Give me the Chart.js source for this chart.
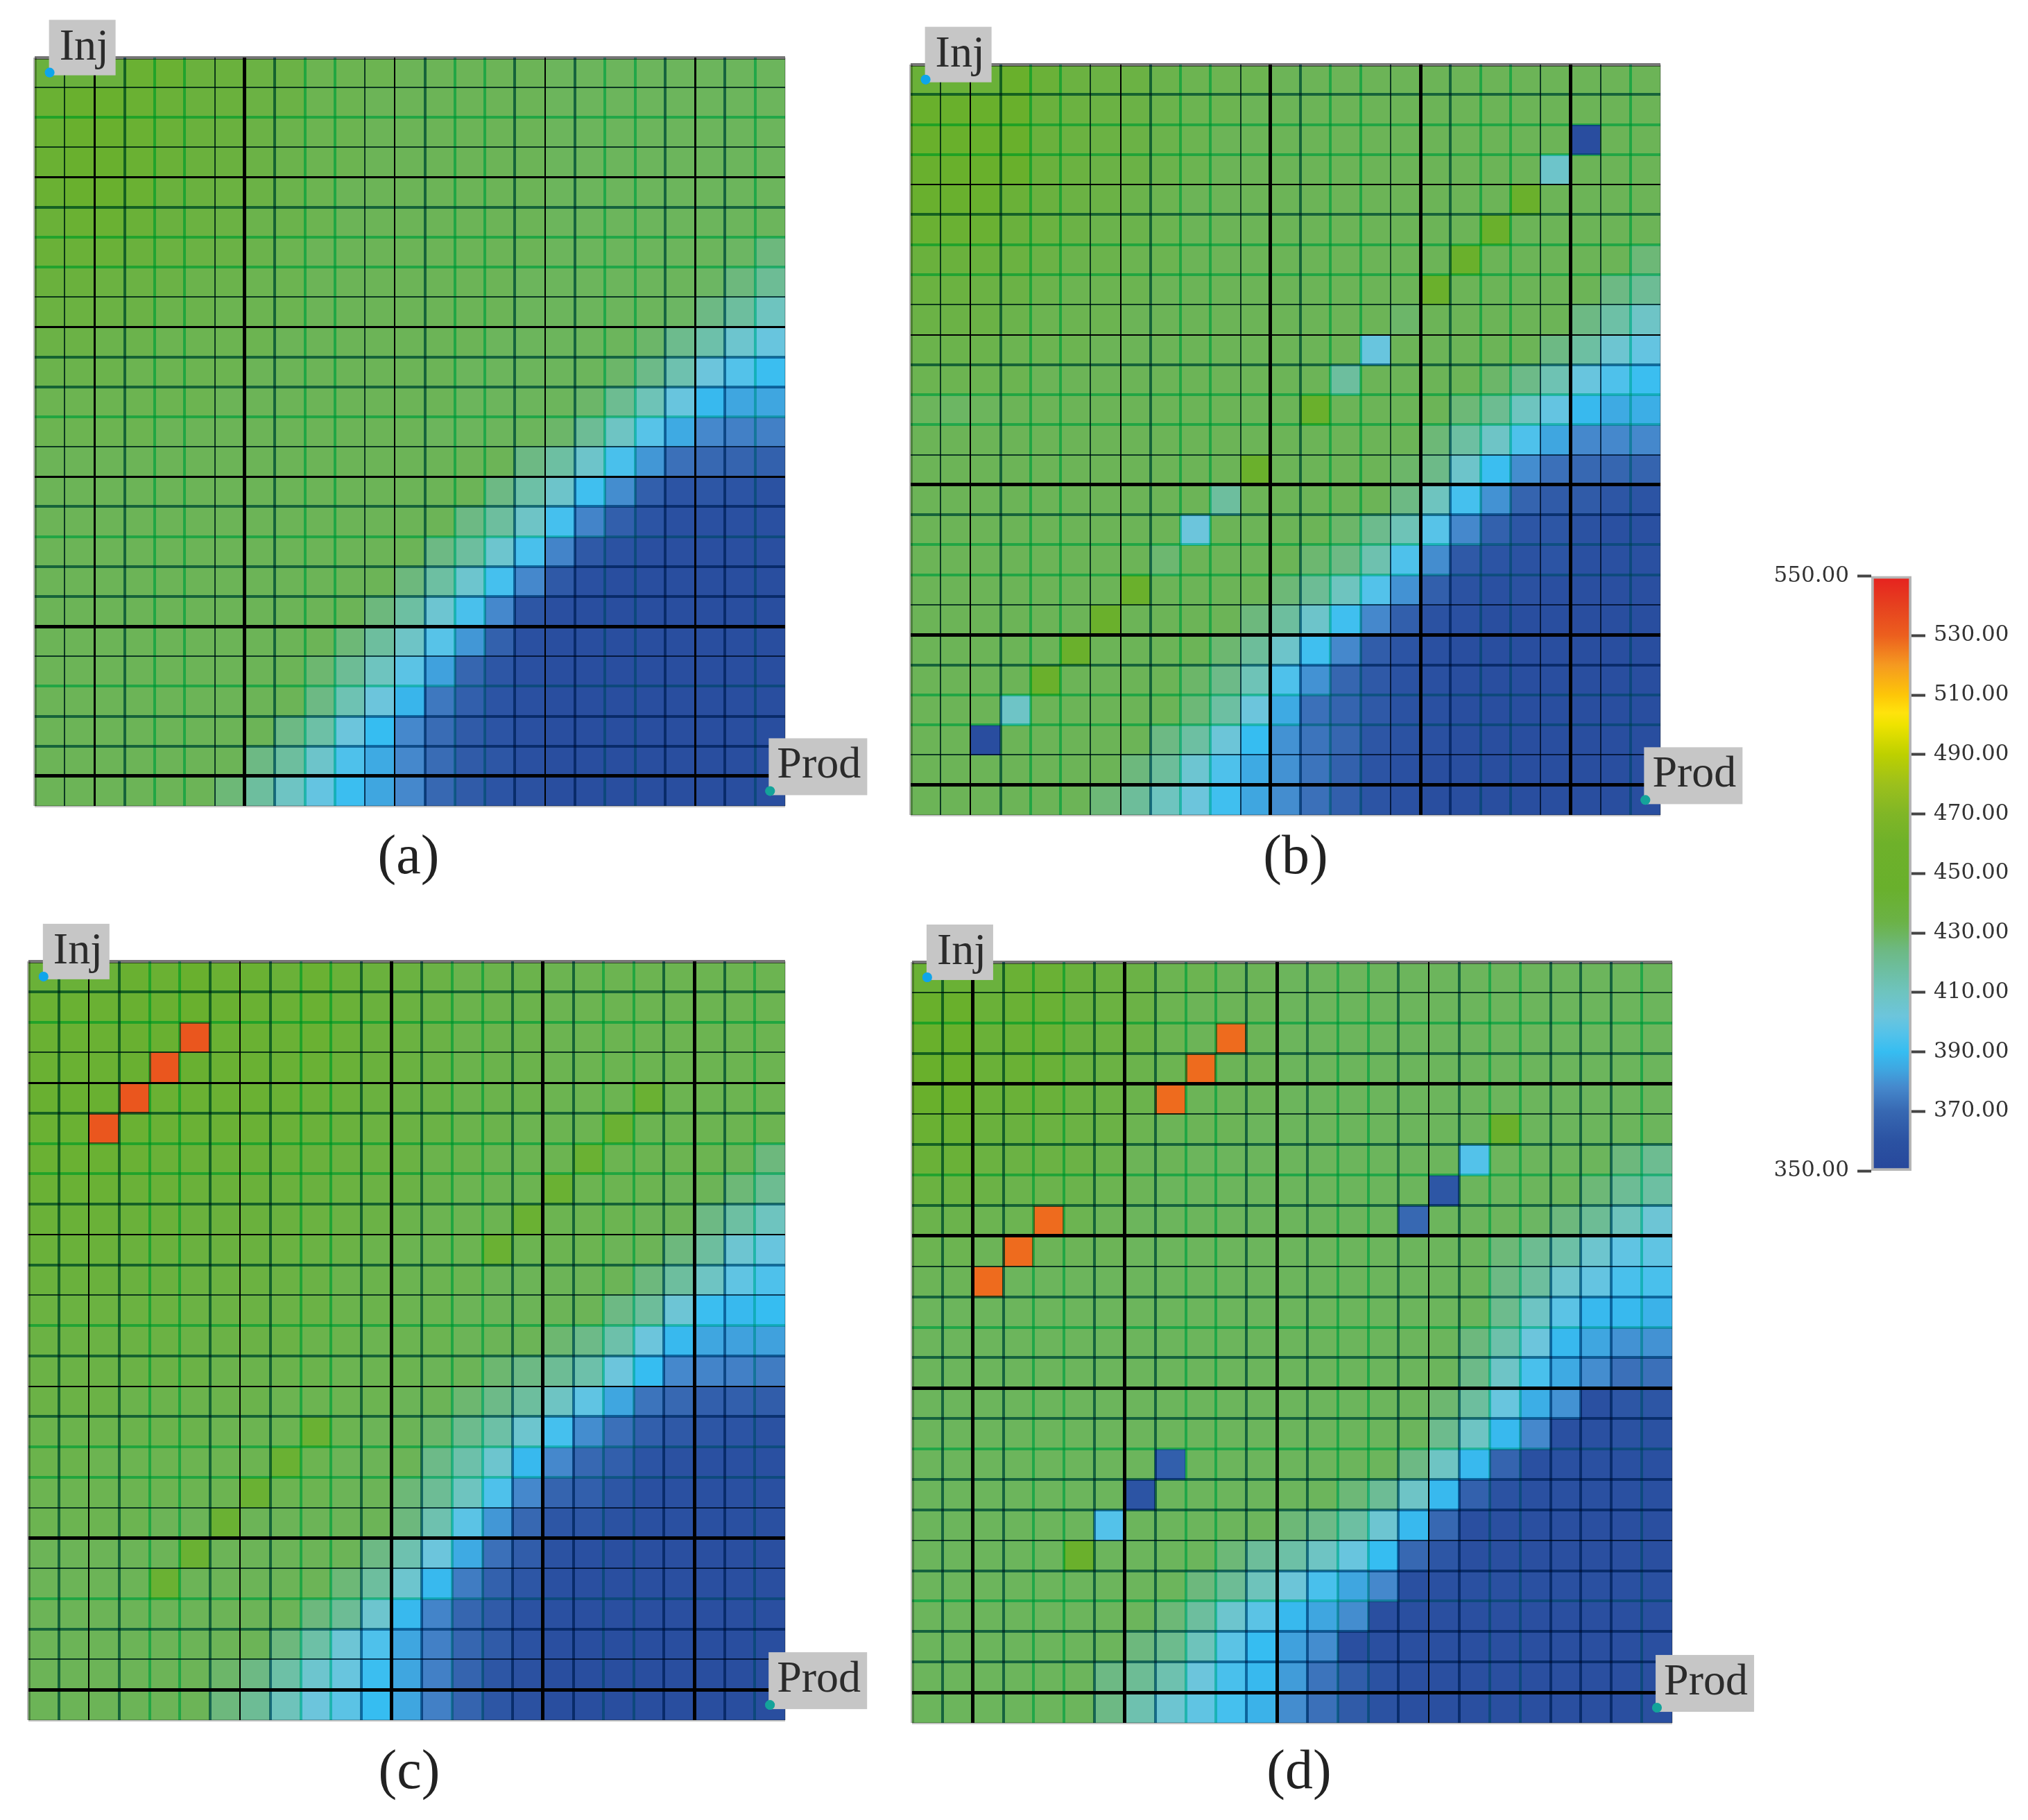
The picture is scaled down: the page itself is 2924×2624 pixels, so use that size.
<!DOCTYPE html>
<html>
<head>
<meta charset="utf-8">
<title>Temperature maps</title>
<script src="https://cdn.jsdelivr.net/npm/chart.js@4/dist/chart.umd.min.js"></script>
<style>
  html, body { margin: 0; padding: 0; background: #fff; }
  body { width: 2924px; height: 2624px; position: relative; overflow: hidden; }
  canvas { position: absolute; }
</style>
</head>
<body>
<script>
// cell values, row by row from the top
var rowsA = [
[438,438,438,442,442,438,438,435,434,432,432,432,431,431,431,431,431,430,430,430,430,430,430,430,430],
[442,444,444,442,440,438,438,435,434,432,432,431,431,431,431,431,431,430,430,430,430,430,430,430,430],
[442,444,444,442,440,438,437,434,433,432,432,431,431,431,431,431,431,430,430,430,430,430,430,430,430],
[442,444,444,442,440,438,437,434,433,432,432,431,431,431,431,431,431,430,430,430,430,430,430,430,430],
[442,444,444,442,438,437,436,434,433,432,431,431,431,431,431,431,431,430,430,430,430,430,430,430,430],
[440,442,442,440,437,436,435,433,433,432,431,431,431,431,431,431,431,430,430,430,430,430,430,430,430],
[440,440,440,438,436,435,434,433,432,431,431,431,431,431,431,431,431,430,430,430,430,430,430,429,425],
[438,438,436,435,434,433,433,432,432,431,431,431,431,431,431,431,430,430,430,430,430,430,429,425,420],
[436,436,435,434,433,433,432,432,432,431,431,431,431,431,431,431,430,430,430,430,430,429,424,418,410],
[434,434,433,433,432,432,432,432,431,431,431,431,431,431,431,430,430,430,430,430,428,422,415,406,401],
[433,433,433,432,432,432,432,431,431,431,431,431,431,431,430,430,430,430,430,428,423,414,402,396,391],
[432,432,432,432,432,432,431,431,431,431,431,431,431,431,430,430,430,430,428,421,412,401,389,384,384],
[432,432,432,432,431,431,431,431,431,431,431,431,431,430,430,430,430,428,420,409,397,385,378,376,376],
[431,431,431,431,431,431,431,431,431,431,431,431,431,431,431,431,424,417,407,394,381,372,370,368,367],
[431,431,431,431,431,431,431,431,431,431,431,431,431,431,431,424,416,407,392,379,366,361,362,361,360],
[431,431,431,431,431,431,431,431,431,431,431,431,431,431,424,418,408,393,377,366,361,358,358,358,358],
[431,431,431,431,431,431,431,431,431,431,431,431,431,424,418,406,394,377,363,360,357,357,357,357,357],
[431,431,431,431,431,431,431,431,431,431,431,431,425,417,406,393,378,363,358,356,356,356,356,356,356],
[431,431,431,431,431,431,431,431,431,431,431,425,417,405,394,378,362,357,356,356,356,356,356,356,356],
[431,431,431,431,431,431,431,431,431,431,426,418,408,397,381,367,358,356,356,356,356,356,356,356,356],
[431,431,431,431,431,431,431,431,431,427,420,410,398,383,369,362,358,356,356,356,356,356,356,356,356],
[431,431,431,431,431,431,431,431,431,424,413,402,388,374,366,361,358,356,356,356,356,356,356,356,356],
[431,431,431,431,431,431,431,431,424,416,402,390,378,371,364,361,358,356,356,356,356,356,356,356,356],
[431,431,431,431,431,431,431,424,418,407,395,385,378,371,364,362,358,356,356,356,356,356,356,356,356],
[431,431,431,431,431,431,426,418,409,400,391,384,378,370,364,361,359,356,356,356,356,356,356,356,356]
];
var rowsB = [
[440,440,440,445,440,436,435,435,433,432,432,432,431,431,431,431,431,431,431,431,431,431,431,431,431],
[445,445,445,445,438,436,435,434,433,432,432,431,431,431,431,431,431,431,431,431,431,431,431,431,431],
[445,445,445,445,438,436,435,434,433,432,431,431,431,431,431,431,431,431,431,431,431,431,355,431,431],
[444,445,445,445,438,436,434,434,433,432,431,431,431,431,431,431,431,431,431,431,431,407,431,431,431],
[444,444,444,440,437,435,434,433,432,431,431,431,431,431,431,431,431,431,431,431,448,431,431,431,431],
[442,442,442,438,436,434,433,433,432,431,431,431,431,431,431,431,431,431,431,448,431,431,431,431,431],
[438,438,438,436,434,433,433,432,432,431,431,431,431,431,431,431,431,431,448,431,431,431,431,431,426],
[436,436,435,434,433,432,432,432,431,431,431,431,431,431,431,431,431,448,431,431,431,431,431,424,420],
[434,434,434,433,432,432,432,431,431,431,431,431,431,431,431,431,428,431,431,431,431,431,424,416,408],
[433,433,433,432,432,432,431,431,431,431,431,431,431,431,431,401,431,431,431,431,431,424,417,405,400],
[432,432,432,432,431,431,431,431,431,431,431,431,431,431,418,431,431,431,431,428,423,413,401,395,391],
[430,429,430,431,431,431,431,431,431,431,431,431,431,448,431,431,431,431,426,421,410,400,389,385,386],
[431,431,431,431,431,431,431,431,431,431,431,431,431,431,431,431,431,426,417,408,395,384,378,378,378],
[431,431,431,431,431,431,431,431,431,431,431,448,431,431,431,431,428,423,407,391,379,372,370,369,368],
[431,431,431,431,431,431,431,431,431,431,418,431,431,431,431,431,424,410,393,380,368,364,364,362,361],
[431,431,431,431,431,431,431,431,431,402,431,431,431,431,428,422,412,397,378,367,362,362,360,358,358],
[431,431,431,431,431,431,431,431,427,431,431,431,431,427,424,414,395,379,363,361,360,361,358,358,358],
[431,431,431,431,431,431,431,448,431,431,431,431,426,420,410,396,380,366,360,358,359,357,357,357,357],
[431,431,431,431,431,431,448,431,431,431,431,425,418,407,392,378,366,360,358,356,356,356,356,356,356],
[431,431,431,431,431,448,431,431,431,431,427,419,407,392,378,365,361,358,356,356,356,356,356,356,356],
[431,431,431,431,448,431,431,431,431,428,423,412,395,380,369,363,360,358,356,356,356,356,356,356,356],
[431,431,431,408,431,431,431,431,431,426,417,402,385,372,368,363,360,358,356,356,356,356,356,356,356],
[431,431,355,431,431,431,431,431,424,417,403,390,380,373,369,362,360,358,356,356,356,356,356,356,356],
[431,431,431,431,431,431,431,425,419,405,395,385,380,373,367,361,358,356,356,356,356,356,356,356,356],
[431,431,431,431,431,431,426,419,410,402,392,384,379,372,366,361,358,356,356,356,356,356,356,356,356]
];
var rowsC = [
[440,440,440,443,442,444,442,442,440,442,440,438,436,434,433,433,433,432,432,432,432,432,432,432,432],
[442,442,442,443,443,444,443,442,441,442,440,438,436,434,433,433,433,432,432,432,432,432,432,432,432],
[442,442,442,443,443,533,442,442,441,442,440,438,436,434,433,433,433,432,432,432,432,432,432,432,432],
[442,442,442,443,533,443,442,442,441,441,440,438,436,434,433,433,433,432,432,432,432,432,432,432,432],
[443,443,443,533,442,442,442,442,441,440,439,437,435,434,433,433,433,432,432,432,442,432,432,432,432],
[442,442,533,442,441,441,441,441,440,439,438,436,435,434,433,433,432,432,432,442,432,432,432,432,432],
[442,442,442,441,440,440,440,440,439,438,437,436,435,433,433,432,432,432,442,432,432,432,432,431,425],
[441,441,441,440,440,439,439,439,438,437,436,435,434,433,432,432,432,442,432,432,432,431,431,426,421],
[440,440,440,439,439,438,438,438,437,436,435,434,433,432,432,432,442,432,432,432,431,431,424,417,410],
[439,439,439,438,438,437,437,437,436,435,434,433,432,432,432,442,432,432,432,431,431,425,418,405,401],
[438,438,438,437,437,436,436,436,435,434,433,433,432,432,432,431,431,431,431,431,425,418,409,399,395],
[436,436,436,436,436,435,435,435,434,434,433,433,432,432,431,431,431,431,431,424,419,404,391,389,390],
[435,435,435,435,435,434,434,434,434,433,433,432,432,432,431,431,431,427,423,415,402,389,384,383,383],
[434,434,434,434,434,434,433,433,433,433,432,432,432,431,431,427,424,420,415,402,390,378,377,376,375],
[434,434,434,433,433,433,433,433,432,432,432,432,431,431,427,423,418,409,399,384,373,370,366,366,365],
[433,433,433,433,433,433,432,432,432,442,432,431,431,428,422,416,406,393,379,372,366,363,362,361,360],
[433,433,432,432,432,432,432,432,442,432,431,431,431,423,415,406,389,378,370,366,361,359,358,358,358],
[432,432,432,432,432,432,432,442,432,432,431,431,426,420,410,395,378,368,366,362,358,358,358,358,358],
[432,432,432,432,431,431,442,431,431,431,431,431,425,414,398,381,370,362,362,360,358,358,358,358,358],
[431,431,431,431,431,442,431,431,431,431,431,424,414,402,385,372,365,360,358,357,357,357,357,357,357],
[431,431,431,431,442,431,431,431,431,431,426,418,406,389,375,367,362,358,357,357,357,357,357,357,357],
[431,431,431,431,431,431,431,431,431,425,420,406,389,377,369,364,360,358,357,357,357,357,357,357,357],
[431,431,431,431,431,431,431,431,425,416,404,395,384,376,369,364,360,357,356,356,356,356,356,356,356],
[431,431,431,431,431,431,428,424,416,406,401,391,384,376,368,362,359,356,356,356,356,356,356,356,356],
[431,431,431,431,431,431,425,420,411,402,398,390,384,376,368,362,359,356,356,356,356,356,356,356,356]
];
var rowsD = [
[441,441,438,441,441,438,436,434,432,432,431,431,430,430,430,430,430,430,430,430,430,430,430,430,430],
[445,445,440,441,441,437,436,434,432,431,431,431,430,430,430,430,430,430,430,430,430,430,430,430,430],
[445,445,440,441,441,437,436,434,432,431,528,431,430,430,430,430,430,430,430,430,430,430,430,430,430],
[445,445,440,441,440,436,435,433,432,528,431,431,430,430,430,430,430,430,430,430,430,430,430,430,430],
[445,445,440,440,439,436,435,433,528,431,431,431,430,430,430,430,430,430,430,430,430,430,430,430,430],
[442,442,438,437,436,435,434,432,431,431,431,430,430,430,430,430,430,430,430,448,430,430,430,430,430],
[440,440,436,435,435,434,433,431,431,430,430,430,430,430,430,430,430,430,396,430,430,430,430,425,421],
[436,436,434,433,433,433,432,431,430,430,430,430,430,430,430,430,430,362,430,430,430,430,426,420,417],
[433,433,432,432,528,432,431,430,430,430,430,430,430,430,430,430,370,430,430,430,429,425,420,411,404],
[432,432,431,528,431,431,431,430,430,430,430,430,430,430,430,430,430,430,430,426,421,416,406,399,399],
[431,431,528,430,430,430,430,430,430,430,430,430,430,430,430,430,430,430,430,424,418,406,400,394,394],
[430,430,430,430,430,430,430,430,430,430,430,430,430,430,430,430,430,430,430,422,409,398,389,389,387],
[430,430,430,430,430,430,430,430,430,430,430,430,430,430,430,430,430,430,425,415,402,389,384,380,380],
[430,430,430,430,430,430,430,430,430,430,430,430,430,430,430,430,430,430,423,408,394,385,379,372,372],
[430,430,430,430,430,430,430,430,430,430,430,430,430,430,430,430,430,427,418,401,386,380,358,362,362],
[430,430,430,430,430,430,430,430,430,430,430,430,430,430,430,430,430,422,409,389,378,358,358,360,360],
[430,430,430,430,430,430,430,430,366,430,430,430,430,430,430,430,424,409,389,368,358,358,358,358,358],
[430,430,430,430,430,430,430,361,430,430,430,430,430,430,426,420,408,389,367,360,358,358,358,358,358],
[430,430,430,430,430,430,396,430,430,430,430,430,426,423,417,405,389,370,357,357,357,357,357,357,357],
[430,430,430,430,430,448,430,430,430,430,426,419,416,409,401,390,370,362,357,357,357,357,357,357,357],
[430,430,430,430,430,430,430,430,430,425,420,411,403,394,384,378,358,358,358,358,358,358,358,358,358],
[430,430,430,430,430,430,430,430,426,418,406,398,389,384,379,357,357,357,357,357,357,357,357,357,357],
[430,430,430,430,430,430,430,425,422,411,398,390,383,379,357,357,357,357,357,357,357,357,357,357,357],
[430,430,430,430,430,430,424,420,414,402,394,389,382,373,365,360,357,357,357,357,357,357,357,357,357],
[430,430,430,430,430,430,424,414,405,399,393,387,379,372,364,360,357,357,357,357,357,357,357,357,357]
];

var columnLabels = ['1','2','3','4','5','6','7','8','9','10','11','12','13','14','15','16','17','18','19','20','21','22','23','24','25'];
var scaleLeftTicks = [350, 550];
var scaleRightTicks = [370, 390, 410, 430, 450, 470, 490, 510, 530];

// colour ramp of the scale bar
var stopValues = [350,360,370,378,384,390,396,402,410,418,424,430,434,445,460,470,480,490,500,504,510,520,530,540,550];
var stopColors = [
  [39,71,155],[43,82,162],[55,104,178],[69,136,204],[63,166,224],[54,189,241],[83,194,234],[108,197,220],
  [110,196,191],[109,190,158],[109,185,132],[108,181,92],[107,178,70],[105,176,44],[110,177,42],[128,182,38],
  [156,192,28],[189,208,0],[238,227,0],[255,227,12],[253,198,8],[245,154,32],[236,95,30],[230,65,31],[230,33,31]
];

// grid line kinds, 1..24 across and down: g green, d dark green, t thin dark, n thin black, k black, K heavy black
var linesAx = 'tkdggtKdggtndggdndggdkdg'.split('');
var linesAy = 'tgtkdggtkddgtkdgddKtgddK'.split('');
var linesBx = 'tndggtndggtKdggtKdggtKtg'.split('');
var linesBy = 'dggndggtndggtKdggtKdggtK'.split('');
var linesCx = 'dndggdndggdKdggdKdggdKdg'.split('');
var linesCy = 'dgtkdggdndtgdndggtKtgdtK'.split('');
var linesDx = 'dKdggdKdggdKdggdndggdddg'.split('');
var linesDy = 'tgdKtdgdKtdgdKdgddtdgddK'.split('');

var lineKinds = {
  g: { color: 'rgb(80,235,200)', width: 4 },
  d: { color: 'rgb(50,140,170)', width: 4 },
  t: { color: 'rgb(30,80,100)', width: 2 },
  n: { color: '#000', width: 2 },
  k: { color: '#000', width: 3 },
  K: { color: '#000', width: 5 }
};
// outer frame: [first line, last line]
var frameX = [{ color: '#b8b8b8', width: 5 }, { color: '#d0d0d0', width: 2 }];
var frameY = [{ color: '#777', width: 5 }, { color: '#c4c4c4', width: 3 }];

function cellColor(v) {
  var i = 0;
  while (i < stopValues.length - 2 && v > stopValues[i + 1]) i++;
  var t = (v - stopValues[i]) / (stopValues[i + 1] - stopValues[i]);
  var a = stopColors[i], b = stopColors[i + 1];
  return 'rgb(' + Math.round(a[0] + (b[0] - a[0]) * t) + ',' + Math.round(a[1] + (b[1] - a[1]) * t) + ',' + Math.round(a[2] + (b[2] - a[2]) * t) + ')';
}

function addCanvas(left, top, width, height) {
  var c = document.createElement('canvas');
  c.width = width;
  c.height = height;
  c.style.left = left + 'px';
  c.style.top = top + 'px';
  c.style.width = width + 'px';
  c.style.height = height + 'px';
  document.body.appendChild(c);
  return c;
}

function lineFor(kinds, frame, i) {
  if (i === 0) return frame[0];
  if (i === 25) return frame[1];
  return lineKinds[kinds[i - 1]];
}

function heatPanel(p) {
  var pad = { left: 30, right: 150, top: 70, bottom: 130 };
  var canvas = addCanvas(p.left - pad.left, p.top - pad.top, p.right - p.left + pad.left + pad.right, p.bottom - p.top + pad.top + pad.bottom);

  var datasets = p.rows.map(function (row, r) {
    return {
      data: row.map(function () { return [r, r + 1]; }),
      backgroundColor: row.map(cellColor),
      grouped: false,
      barPercentage: 1,
      categoryPercentage: 1,
      inflateAmount: 0.5,
      order: 2
    };
  });
  // well markers sit in the first and the last cell
  datasets.push({
    type: 'scatter',
    data: [{ x: '1', y: 0.5 }, { x: '25', y: 24.5 }],
    backgroundColor: ['#0fa5ea', '#14a39a'],
    pointRadius: 7,
    pointBorderWidth: 0,
    order: 1
  });

  var overlay = {
    id: 'overlay',
    afterDatasetsDraw: function (chart) {
      // the grid layer comes next, its lines darken the cells below
      chart.ctx.globalCompositeOperation = 'multiply';
    },
    afterDraw: function (chart) {
      var ctx = chart.ctx;
      ctx.globalCompositeOperation = 'source-over';
      var dots = chart.getDatasetMeta(25).data;
      var inj = dots[0], prod = dots[1];
      ctx.fillStyle = '#c6c6c6';
      ctx.fillRect(inj.x - 1, inj.y - 76, 96, 80);
      ctx.fillRect(prod.x - 2, prod.y - 76, 142, 82);
      ctx.fillStyle = '#2b2b2b';
      ctx.textBaseline = 'alphabetic';
      ctx.textAlign = 'left';
      ctx.font = '64px "Liberation Serif"';
      ctx.fillText('Inj', inj.x + 14, inj.y - 19);
      ctx.fillText('Prod', prod.x + 10, prod.y - 19);
      ctx.font = '80px "Liberation Serif"';
      ctx.textAlign = 'center';
      ctx.textBaseline = 'middle';
      ctx.fillStyle = '#222';
      ctx.fillText(p.caption, p.captionX - (p.left - pad.left), p.captionY - (p.top - pad.top));
      dots.forEach(function (d) { d.draw(ctx); });
    }
  };

  return new Chart(canvas, {
    type: 'bar',
    data: { labels: columnLabels, datasets: datasets },
    plugins: [overlay],
    options: {
      responsive: false,
      animation: false,
      devicePixelRatio: 1,
      events: [],
      layout: { padding: pad, autoPadding: false },
      plugins: { legend: { display: false }, tooltip: { enabled: false }, title: { display: false } },
      scales: {
        x: {
          type: 'category',
          offset: true,
          border: { display: false },
          ticks: { display: false, autoSkip: false },
          grid: {
            offset: true,
            z: 1,
            drawTicks: false,
            color: function (c) { return lineFor(p.linesX, frameX, c.index === undefined ? 25 : c.index).color; },
            lineWidth: function (c) { return lineFor(p.linesX, frameX, c.index === undefined ? 25 : c.index).width; }
          }
        },
        y: {
          type: 'linear',
          reverse: true,
          min: 0,
          max: 25,
          border: { display: false },
          ticks: { display: false, stepSize: 1 },
          grid: {
            z: 1,
            drawTicks: false,
            color: function (c) { return lineFor(p.linesY, frameY, c.tick.value).color; },
            lineWidth: function (c) { return lineFor(p.linesY, frameY, c.tick.value).width; }
          }
        }
      }
    }
  });
}

heatPanel({ rows: rowsA, linesX: linesAx, linesY: linesAy, left: 50, right: 1132, top: 83, bottom: 1162, caption: '(a)', captionX: 589, captionY: 1238 });
heatPanel({ rows: rowsB, linesX: linesBx, linesY: linesBy, left: 1313, right: 2394, top: 93, bottom: 1175, caption: '(b)', captionX: 1868, captionY: 1238 });
heatPanel({ rows: rowsC, linesX: linesCx, linesY: linesCy, left: 41, right: 1132, top: 1386, bottom: 2480, caption: '(c)', captionX: 590, captionY: 2557 });
heatPanel({ rows: rowsD, linesX: linesDx, linesY: linesDy, left: 1315, right: 2411, top: 1387, bottom: 2484, caption: '(d)', captionX: 1873, captionY: 2557 });

// colour scale bar
var barCanvas = addCanvas(2540, 800, 384, 920);
function barFill(c) {
  var area = c.chart.chartArea;
  if (!area) return '#888';
  var g = c.chart.ctx.createLinearGradient(0, area.bottom, 0, area.top);
  stopValues.forEach(function (v, i) {
    var s = stopColors[i];
    g.addColorStop((v - 350) / 200, 'rgb(' + s[0] + ',' + s[1] + ',' + s[2] + ')');
  });
  return g;
}
function scaleAxis(position, tickValues, axisWidth) {
  return {
    type: 'linear',
    position: position,
    min: 350,
    max: 550,
    border: { display: false },
    grid: { drawOnChartArea: false, tickLength: 20, tickColor: '#444', tickWidth: 4 },
    ticks: {
      color: '#333',
      padding: 12,
      font: { family: '"DejaVu Serif"', size: 31 },
      autoSkip: false,
      callback: function (v) { return v.toFixed(2); }
    },
    afterBuildTicks: function (s) { s.ticks = tickValues.map(function (v) { return { value: v }; }); },
    afterFit: function (s) { s.width = axisWidth; }
  };
}
new Chart(barCanvas, {
  type: 'bar',
  data: {
    labels: ['scale'],
    datasets: [{
      data: [[350, 550]],
      backgroundColor: barFill,
      borderColor: '#b5b5b5',
      borderWidth: 4,
      borderSkipped: false,
      barPercentage: 1,
      categoryPercentage: 1,
      yAxisID: 'y'
    }]
  },
  options: {
    responsive: false,
    animation: false,
    devicePixelRatio: 1,
    events: [],
    layout: { padding: { top: 30, bottom: 32, left: 0, right: 0 }, autoPadding: false },
    plugins: { legend: { display: false }, tooltip: { enabled: false } },
    scales: {
      x: { display: false, offset: true },
      y: scaleAxis('left', scaleLeftTicks, 158),
      y2: scaleAxis('right', scaleRightTicks, 168)
    }
  }
});
</script>
</body>
</html>
